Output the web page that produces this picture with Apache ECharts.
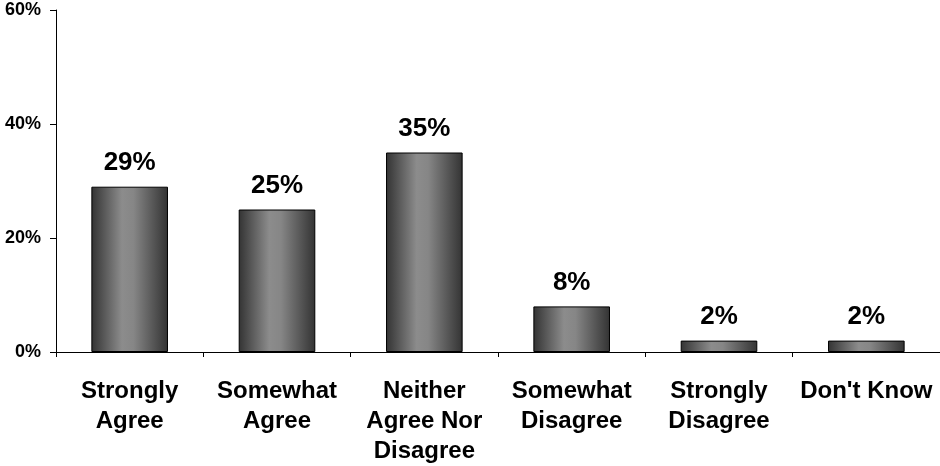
<!DOCTYPE html>
<html>
<head>
<meta charset="utf-8">
<script src="https://cdn.jsdelivr.net/npm/echarts@6/dist/echarts.min.js"></script>
<style>
  html, body { margin: 0; padding: 0; background: #fff; }
  #chart { width: 940px; height: 466px; }
</style>
</head>
<body>
<div id="chart"></div>
<script>
// Survey responses (percent of respondents)
const categories = ['Strongly\nAgree', 'Somewhat\nAgree', 'Neither\nAgree Nor\nDisagree', 'Somewhat\nDisagree', 'Strongly\nDisagree', "Don't Know"];
const values = [29, 25, 35, 8, 2, 2];
const yTicks = [0, 20, 40, 60];

const font = 'Arial, "Liberation Sans", Helvetica, sans-serif';

const barFill = new echarts.graphic.LinearGradient(0, 0, 1, 0, [
  { offset: 0, color: '#333333' },
  { offset: 0.4, color: '#8c8c8c' },
  { offset: 0.55, color: '#868686' },
  { offset: 1, color: '#333333' }
]);

const chart = echarts.init(document.getElementById('chart'), null, { renderer: 'canvas' });
chart.setOption({
  animation: false,
  backgroundColor: '#fff',
  grid: { left: 56, top: 10, right: -4, bottom: 112, containLabel: false },
  xAxis: {
    type: 'category',
    data: categories,
    axisLine: { show: true, lineStyle: { color: '#000', width: 1 } },
    axisTick: { show: true, length: 5, lineStyle: { color: '#000' } },
    axisLabel: {
      interval: 0,
      margin: 24,
      color: '#000',
      fontFamily: font,
      fontWeight: 'bold',
      fontSize: 24,
      lineHeight: 30,
      align: 'center'
    }
  },
  yAxis: {
    type: 'value',
    min: yTicks[0],
    max: yTicks[yTicks.length - 1],
    interval: yTicks[1] - yTicks[0],
    splitLine: { show: false },
    axisLine: { show: true, lineStyle: { color: '#000', width: 1 } },
    axisTick: { show: true, length: 6, lineStyle: { color: '#000' } },
    axisLabel: {
      margin: 15,
      color: '#000',
      fontFamily: font,
      fontWeight: 'bold',
      fontSize: 18,
      formatter: v => v + '%'
    }
  },
  series: [{
    type: 'bar',
    data: values,
    barWidth: '52%',
    itemStyle: { color: barFill, borderColor: '#000', borderWidth: 1 },
    label: {
      show: true,
      position: 'top',
      distance: 11,
      color: '#000',
      fontFamily: font,
      fontWeight: 'bold',
      fontSize: 26,
      formatter: p => p.value + '%'
    }
  }]
});
</script>
</body>
</html>
